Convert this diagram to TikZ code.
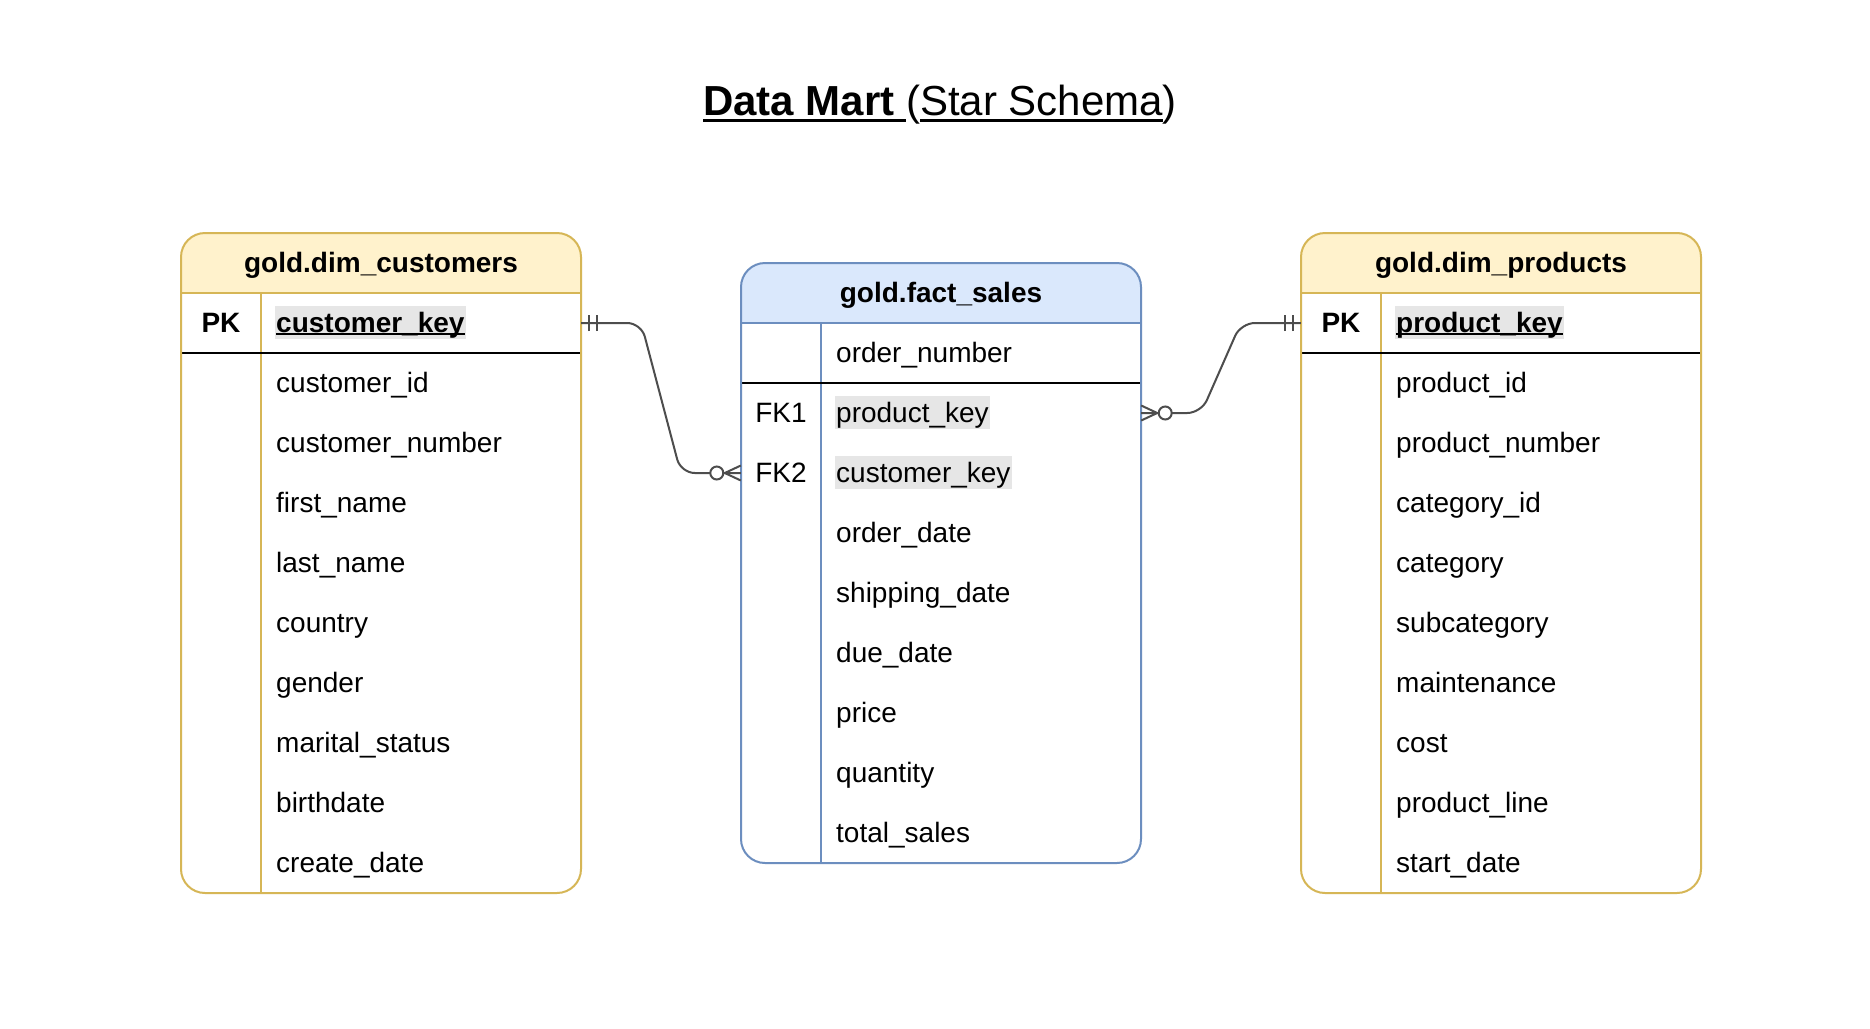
\documentclass[tikz,border=0pt]{standalone}
\usepackage{fontspec}
\setmainfont{Liberation Sans}
\usetikzlibrary{calc}
\definecolor{dimfill}{HTML}{FFF2CC}
\definecolor{dimline}{HTML}{D6B656}
\definecolor{factfill}{HTML}{DAE8FC}
\definecolor{factline}{HTML}{6C8EBF}
\definecolor{keyfill}{HTML}{E6E6E6}
\definecolor{connline}{HTML}{4D4D4D}
\newcommand\keyul[2][3pt]{\setbox0\hbox{#2}\rlap{\rule[-#1]{\wd0}{0.08em}}\box0}

\begin{document}
\begin{tikzpicture}[x=1pt,y=-1pt,
  cell/.style={font=\fontsize{28}{34}\selectfont,anchor=base west,inner sep=0pt},
  keyhl/.style={cell,fill=keyfill,inner xsep=1pt,inner ysep=3pt,text height=23pt,text depth=4pt},
  tbltitle/.style={font=\fontsize{28}{34}\selectfont\bfseries,anchor=base,inner sep=0pt},
  rowbox/.style={minimum width=400pt,minimum height=60pt,inner sep=0pt},
  conn/.style={connline,line width=2pt}]
  \useasboundingbox[fill=white] (0,0) rectangle (1870,1028);
  \node[font=\fontsize{42}{50}\selectfont,anchor=base,inner sep=0pt] (title) at (940,115)
    {\keyul[7pt]{\bfseries Data Mart }(\keyul[7pt]{Star Schema})};
  % table frames
  \foreach \xa/\ya/\xb/\yb/\tc in {181/233/581/893/dim,741/263/1141/863/fact,1301/233/1701/893/dim} {
    \begin{scope}
      \clip[rounded corners=24] (\xa,\ya) rectangle (\xb,\yb);
      \fill[\tc fill] (\xa,\ya) rectangle (\xb,\ya+60);
    \end{scope}
    \draw[\tc line,line width=2pt] (\xa,\ya+60) -- (\xb,\ya+60);
    \draw[\tc line,line width=2pt] (\xa+80,\ya+60) -- (\xa+80,\yb);
    \draw[line width=2pt] (\xa,\ya+120) -- (\xb,\ya+120);
    \draw[\tc line,line width=2pt,rounded corners=24] (\xa,\ya) rectangle (\xb,\yb);
  }
  % gold.dim_customers
  \node[tbltitle] (cust-title) at (381,272) {gold.dim\_customers};
  \node[rowbox] (cust-pk) at (381,323) {};
  \node[tbltitle] at (221,332) {PK};
  \node[keyhl,font=\fontsize{28}{34}\selectfont\bfseries] (cust-key) at (275,332) {\keyul{customer\_key}};
  \foreach \i/\f in {1/customer\_id,2/customer\_number,3/first\_name,4/last\_name,5/country,6/gender,7/marital\_status,8/birthdate,9/create\_date}
    \node[cell] (cust-\i) at (276,{383+60*(\i-1)+9}) {\f};
  % gold.fact_sales
  \node[tbltitle] (fact-title) at (941,302) {gold.fact\_sales};
  \node[cell] (fact-0) at (836,362) {order\_number};
  \node[rowbox] (fact-fk1) at (941,413) {};
  \node[rowbox] (fact-fk2) at (941,473) {};
  \node[cell,anchor=base] at (781,422) {FK1};
  \node[cell,anchor=base] at (781,482) {FK2};
  \node[keyhl] (fact-key1) at (835,422) {product\_key};
  \node[keyhl] (fact-key2) at (835,482) {customer\_key};
  \foreach \i/\f in {3/order\_date,4/shipping\_date,5/due\_date,6/price,7/quantity,8/total\_sales}
    \node[cell] (fact-\i) at (836,{413+60*(\i-1)+9}) {\f};
  % gold.dim_products
  \node[tbltitle] (prod-title) at (1501,272) {gold.dim\_products};
  \node[rowbox] (prod-pk) at (1501,323) {};
  \node[tbltitle] at (1341,332) {PK};
  \node[keyhl,font=\fontsize{28}{34}\selectfont\bfseries] (prod-key) at (1395,332) {\keyul{product\_key}};
  \foreach \i/\f in {1/product\_id,2/product\_number,3/category\_id,4/category,5/subcategory,6/maintenance,7/cost,8/product\_line,9/start\_date}
    \node[cell] (prod-\i) at (1396,{383+60*(\i-1)+9}) {\f};
  % relations
  \draw[conn,rounded corners=14] (cust-pk.east) -- ++(60,0) -- ([xshift=-60pt]fact-fk2.west) -- (fact-fk2.west);
  \draw[conn,rounded corners=14] (fact-fk1.east) -- ++(60,0) -- ([xshift=-60pt]prod-pk.west) -- (prod-pk.west);
  \foreach \d in {8,16} {
    \draw[conn] ([xshift=\d pt,yshift=-8pt]cust-pk.east) -- ([xshift=\d pt,yshift=8pt]cust-pk.east);
    \draw[conn] ([xshift=-\d pt,yshift=-8pt]prod-pk.west) -- ([xshift=-\d pt,yshift=8pt]prod-pk.west);
  }
  \draw[conn] ([yshift=7.5pt]fact-fk2.west) -- ([xshift=-16pt]fact-fk2.west) -- ([yshift=-7.5pt]fact-fk2.west);
  \draw[conn,fill=white] ([xshift=-24pt]fact-fk2.west) circle (6.5pt);
  \draw[conn] ([yshift=7.5pt]fact-fk1.east) -- ([xshift=16pt]fact-fk1.east) -- ([yshift=-7.5pt]fact-fk1.east);
  \draw[conn,fill=white] ([xshift=24pt]fact-fk1.east) circle (6.5pt);
\end{tikzpicture}
\end{document}
